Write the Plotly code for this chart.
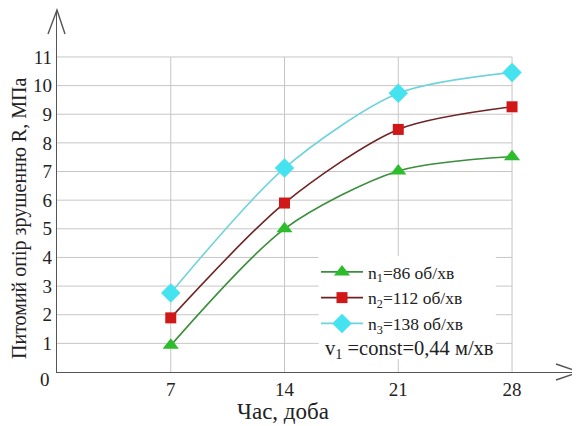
import plotly.graph_objects as go

days = [7, 14, 21, 28]
r_n1 = [0.93, 5.0, 7.02, 7.52]
r_n2 = [1.89, 5.9, 8.47, 9.26]
r_n3 = [2.76, 7.12, 9.73, 10.46]
names = ["n<sub>1</sub>=86 об/хв", "n<sub>2</sub>=112 об/хв", "n<sub>3</sub>=138 об/хв"]
note = "v<sub>1</sub> =const=0,44 м/хв"
y_ticks = list(range(1, 12))
x_ticks = [7, 14, 21, 28]

FONT = "Liberation Serif, Times New Roman, serif"
XMAX = 32.12
YMAX = 12.64

fig = go.Figure()
styles = [
    dict(line=dict(color="#3a8f3a", width=1.6), marker=dict(symbol="triangle-up", size=14, color="#2cbc2c")),
    dict(line=dict(color="#6e2222", width=1.6), marker=dict(symbol="square", size=11, color="#d01818")),
    dict(line=dict(color="#6fd3dc", width=1.6), marker=dict(symbol="diamond", size=15, color="#45e3f0")),
]
for ys, nm, st in zip([r_n1, r_n2, r_n3], names, styles):
    fig.add_trace(go.Scatter(x=days, y=ys, name=nm, mode="lines+markers",
                             line=dict(shape="spline", smoothing=0.8, **st["line"]),
                             marker=st["marker"], cliponaxis=False))


def px(xp):
    return (xp - 57) / 522


def py(yp):
    return (372 - yp) / 362


shapes = []
for v in y_ticks:
    shapes.append(dict(type="line", xref="x", yref="y", x0=0, x1=28, y0=v, y1=v,
                       line=dict(color="#c6c6c6", width=1), layer="below"))
for v in x_ticks:
    shapes.append(dict(type="line", xref="x", yref="y", x0=v, x1=v, y0=0, y1=11,
                       line=dict(color="#c6c6c6", width=1), layer="below"))
# legend white box
shapes.append(dict(type="rect", xref="x", yref="y", x0=16.1, x1=27.0, y0=0.45, y1=4.05,
                   fillcolor="white", line=dict(width=0), layer="below"))
# axis arrows (open chevrons)
shapes.append(dict(type="path", xref="paper", yref="paper",
                   path=f"M {px(48)} {py(34)} L 0 1 L {px(65)} {py(34)}",
                   line=dict(color="#555555", width=1.4)))
shapes.append(dict(type="path", xref="paper", yref="paper",
                   path=f"M {px(556)} {py(364)} L 1 0 L {px(556)} {py(380)}",
                   line=dict(color="#555555", width=1.4)))

annotations = [
    dict(text="0", xref="paper", yref="paper", x=px(45), y=py(379), xanchor="center", yanchor="middle",
         showarrow=False, font=dict(family=FONT, size=19, color="#222")),
    dict(text="Питомий опір зрушенню R, МПа", xref="paper", yref="paper",
         x=px(19), y=py(219), xanchor="center", yanchor="middle", textangle=-90, showarrow=False,
         font=dict(family=FONT, size=20, color="#222")),
    dict(text="Час, доба", xref="paper", yref="paper",
         x=px(283), y=py(411), xanchor="center", yanchor="middle", showarrow=False,
         font=dict(family=FONT, size=23, color="#222")),
    dict(text=note, xref="paper", yref="paper",
         x=px(409), y=py(349), xanchor="center", yanchor="middle", showarrow=False,
         font=dict(family=FONT, size=20.5, color="#222")),
]

fig.update_layout(
    width=580, height=426,
    margin=dict(l=49, r=9, t=2, b=62),
    paper_bgcolor="white", plot_bgcolor="white",
    font=dict(family=FONT, size=18, color="#222"),
    shapes=shapes, annotations=annotations,
    showlegend=True,
    legend=dict(x=px(316), y=py(254), xanchor="left", yanchor="top",
                bgcolor="rgba(0,0,0,0)", font=dict(family=FONT, size=17.5, color="#222"),
                tracegroupgap=0, itemwidth=42),
    xaxis=dict(range=[0, XMAX], tickvals=x_ticks, showgrid=False, zeroline=False,
               showline=True, linecolor="#555555", linewidth=1.4, ticks="",
               tickfont=dict(family=FONT, size=19, color="#222")),
    yaxis=dict(range=[0, YMAX], tickvals=y_ticks, showgrid=False, zeroline=False,
               showline=True, linecolor="#555555", linewidth=1.4, ticks="",
               tickfont=dict(family=FONT, size=19, color="#222")),
)

fig.write_html("out.html")
